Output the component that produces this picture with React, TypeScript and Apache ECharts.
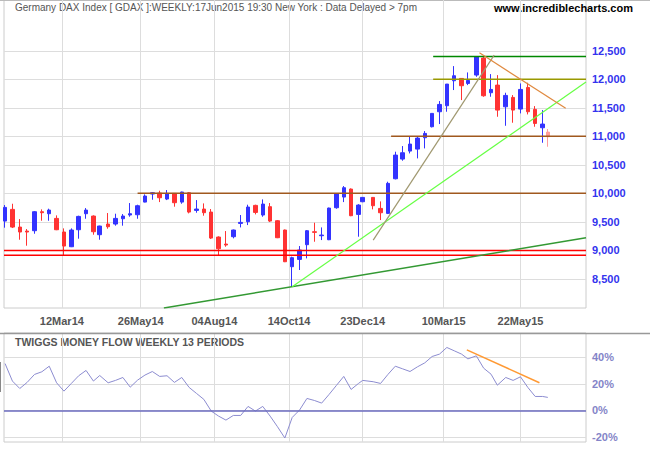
import React, { useEffect, useRef } from "react";
import * as echarts from "echarts";

// ---- weekly bars (last trading day of each week) ----
const barDates = [
  "2014-01-17","2014-01-24","2014-01-31","2014-02-07","2014-02-14","2014-02-21","2014-02-28",
  "2014-03-07","2014-03-14","2014-03-21","2014-03-28","2014-04-04","2014-04-11","2014-04-17",
  "2014-04-25","2014-05-02","2014-05-09","2014-05-16","2014-05-23","2014-05-30","2014-06-06",
  "2014-06-13","2014-06-20","2014-06-27","2014-07-04","2014-07-11","2014-07-18","2014-07-25",
  "2014-08-01","2014-08-08","2014-08-15","2014-08-22","2014-08-29","2014-09-05","2014-09-12",
  "2014-09-19","2014-09-26","2014-10-03","2014-10-10","2014-10-17","2014-10-24","2014-10-31",
  "2014-11-07","2014-11-14","2014-11-21","2014-11-28","2014-12-05","2014-12-12","2014-12-19",
  "2014-12-23","2015-01-02","2015-01-09","2015-01-16","2015-01-23","2015-01-30","2015-02-06",
  "2015-02-13","2015-02-20","2015-02-27","2015-03-06","2015-03-13","2015-03-20","2015-03-27",
  "2015-04-02","2015-04-10","2015-04-17","2015-04-24","2015-04-30","2015-05-08","2015-05-15",
  "2015-05-22","2015-05-29","2015-06-05","2015-06-12","2015-06-17"
];

const opens = [
  9514, 9719, 9409, 9339, 9345, 9678, 9643, 9561, 9322, 9064,
  9362, 9643, 9602, 9275, 9462, 9462, 9555, 9620, 9625, 9847,
  9988, 10005, 9900, 9999, 9847, 10011, 9701, 9725, 9672, 9234,
  9111, 9240, 9473, 9503, 9789, 9620, 9766, 9520, 9357, 8714,
  8842, 9100, 9327, 9257, 9187, 9748, 9935, 10075, 9631, 9853,
  9929, 9736, 9649, 10256, 10601, 10741, 10776, 10975, 11168, 11431,
  11536, 11974, 12015, 11927, 12074, 12372, 11764, 11898, 11518, 11682,
  11478, 11857, 11472, 11150, 11074
];
const closes = [
  9754, 9409, 9322, 9322, 9678, 9661, 9707, 9362, 9076, 9357,
  9596, 9707, 9327, 9427, 9415, 9561, 9602, 9643, 9783, 9953,
  10011, 9923, 9999, 9836, 10023, 9672, 9725, 9661, 9216, 9029,
  9094, 9357, 9491, 9760, 9666, 9812, 9514, 9222, 8801, 8872,
  9006, 9345, 9316, 9269, 9742, 9994, 10099, 9608, 9795, 9929,
  9783, 9660, 10175, 10671, 10712, 10864, 10969, 11051, 11402, 11559,
  11916, 12062, 11887, 11980, 12395, 11711, 11822, 11460, 11717, 11460,
  11822, 11431, 11226, 11215, 10993
];
const lows = [
  9398, 9392, 9187, 9082, 9292, 9520, 9520, 9355, 8918, 9058,
  9205, 9555, 9275, 9187, 9380, 9433, 9433, 9590, 9555, 9842,
  9888, 9847, 9882, 9766, 9818, 9649, 9660, 9608, 9199, 8918,
  9064, 9211, 9403, 9444, 9631, 9590, 9497, 9215, 8795, 8363,
  8656, 8860, 9152, 9181, 9180, 9730, 9847, 9600, 9240, 9845,
  9719, 9532, 9637, 10245, 10572, 10700, 10613, 10788, 11156, 11215,
  11431, 11811, 11635, 11898, 12044, 11694, 11694, 11343, 11185, 11238,
  11402, 11384, 11168, 10887, 10817
];
const highs = [
  9795, 9818, 9549, 9374, 9690, 9719, 9731, 9614, 9386, 9386,
  9608, 9742, 9614, 9433, 9655, 9643, 9637, 9830, 9801, 9982,
  10023, 10046, 10058, 10005, 10029, 10023, 9882, 9824, 9725, 9246,
  9339, 9365, 9620, 9801, 9801, 9894, 9830, 9532, 9365, 8890,
  9076, 9357, 9485, 9403, 9750, 10000, 10128, 10087, 9810, 9935,
  9935, 9859, 10204, 10730, 10829, 11004, 10993, 11092, 11402, 11618,
  11916, 12231, 12015, 12120, 12407, 12412, 12091, 12073, 11764, 11723,
  11927, 11939, 11530, 11460, 11127
];

// Twiggs Money Flow (13 periods), percent
const moneyFlow = [
  35.3, 22.1, 16.5, 21.1, 27.1, 29.1, 33.3, 20.8, 14.5, 20.3,
  26.1, 30.1, 22.1, 26.3, 20.8, 22.6, 24.8, 17.5, 22.8, 26.6,
  29.3, 25.6, 26.1, 21.1, 24.8, 17.3, 12.8, 8.3, -0.5, -4.3,
  -7.3, -3.8, -3.8, 3.0, -0.5, 3.0, -4.3, -12.3, -20.8, -5.3,
  0.3, 9.0, 7.5, 5.5, 12.0, 18.8, 25.6, 15.8, 20.3, 22.6,
  21.6, 20.3, 27.1, 33.3, 31.3, 29.3, 32.8, 35.8, 40.6, 42.4,
  47.4, 44.9, 42.4, 38.8, 41.1, 31.8, 27.3, 19.0, 24.8, 22.6,
  25.3, 17.3, 10.5, 10.5, 9.8
];

// ---- axis ticks ----
const priceTicks = [8500, 9000, 9500, 10000, 10500, 11000, 11500, 12000, 12500];
const flowTicks = [-20, 0, 20, 40];
const dateTicks = ["2014-03-12", "2014-05-26", "2014-08-04", "2014-10-14", "2014-12-23", "2015-03-10", "2015-05-22"];
const xStart = "2014-01-16";
const xEnd = "2015-07-23T07:00:00Z";

// ---- drawn lines (support / resistance / trend) ----
const redLevels = [9000, 8915];
const levelStarts = ["2014-05-23", "2015-01-19", "2015-02-28", "2015-02-28"];
const levelValues = [10000, 11000, 12000, 12400];
const levelColors = ["#a0581e", "#a0581e", "#999900", "#008800"];
const darkGreenTrend: [string, number][] = [["2014-06-17", 7988], ["2015-07-23T07:00:00Z", 9221]];
const lightGreenTrend: [string, number][] = [["2014-10-17", 8363], ["2015-07-23T07:00:00Z", 11951]];
const tanTrend: [string, number][] = [["2015-01-02", 9181], ["2015-04-27", 12424]];
const orangeTrend: [string, number][] = [["2015-04-13", 12465], ["2015-07-04", 11490]];
const flowTrend: [string, number][] = [["2015-04-01", 45.6], ["2015-06-09", 20.8]];

const MONTHS = ["Jan", "Feb", "Mar", "Apr", "May", "Jun", "Jul", "Aug", "Sep", "Oct", "Nov", "Dec"];
const ts = (s: string) => new Date(s).getTime();
const fmtDate = (v: number) => {
  const d = new Date(v);
  return String(d.getUTCDate()).padStart(2, "0") + MONTHS[d.getUTCMonth()] + String(d.getUTCFullYear()).slice(2);
};

const FONT = 'Arial, "Liberation Sans", sans-serif';

function lineSeries(data: [number, number][], color: string, width: number, xi = 0, yi = 0, z = 4) {
  return {
    type: "line",
    xAxisIndex: xi,
    yAxisIndex: yi,
    data,
    symbol: "none",
    silent: true,
    clip: true,
    z,
    lineStyle: { color, width },
  };
}

export default function App() {
  const ref = useRef<HTMLDivElement>(null);

  useEffect(() => {
    if (!ref.current) return;
    const chart = echarts.init(ref.current, undefined, { renderer: "svg" });
    const X_MIN = ts(xStart);
    const X_MAX = ts(xEnd);
    const dateTickVals = dateTicks.map(ts);

    const last = barDates.length - 1;
    const candles = barDates.map((d, i) => {
      const v = [ts(d), opens[i], closes[i], lows[i], highs[i]];
      if (i === last) {
        return {
          value: v,
          itemStyle: { color: "#ff9c9c", color0: "#ff9c9c", borderColor: "#ff9c9c", borderColor0: "#ff9c9c" },
        };
      }
      return v;
    });

    const toPts = (arr: [string, number][]) => arr.map(([d, v]) => [ts(d), v] as [number, number]);

    const series: any[] = [
      {
        type: "candlestick",
        xAxisIndex: 0,
        yAxisIndex: 0,
        data: candles,
        barWidth: 4,
        z: 3,
        silent: true,
        itemStyle: {
          color: "#3333ff",
          color0: "#ff3333",
          borderColor: "#3333ff",
          borderColor0: "#ff3333",
          borderWidth: 1,
        },
      },
      ...redLevels.map((v) => lineSeries([[X_MIN, v], [X_MAX, v]], "#ff0000", 1.5)),
      ...levelValues.map((v, i) => lineSeries([[ts(levelStarts[i]), v], [X_MAX, v]], levelColors[i], 1.5)),
      lineSeries(toPts(darkGreenTrend), "#339933", 1.5),
      lineSeries(toPts(lightGreenTrend), "#66ff44", 1.2),
      lineSeries(toPts(tanTrend), "#a09870", 1.2),
      lineSeries(toPts(orangeTrend), "#e08a40", 1.2),
      {
        type: "line",
        xAxisIndex: 1,
        yAxisIndex: 1,
        data: barDates.map((d, i) => [ts(d), moneyFlow[i]]),
        symbol: "none",
        silent: true,
        lineStyle: { color: "#8c8cd0", width: 1 },
        markLine: {
          silent: true,
          symbol: "none",
          label: { show: false },
          lineStyle: { color: "#6b6bbf", width: 1.5, type: "solid" },
          data: [{ yAxis: 0 }],
        },
      },
      lineSeries(toPts(flowTrend), "#ff9933", 1.5, 1, 1),
    ];

    const xAxisCommon = {
      type: "value",
      min: X_MIN,
      max: X_MAX,
      scale: true,
      axisLine: { show: false },
      axisTick: { show: false, customValues: dateTickVals },
      splitLine: { show: true, lineStyle: { color: "#dddddd", width: 1 } },
    };

    chart.setOption({
      animation: false,
      backgroundColor: "#ffffff",
      grid: [
        { left: 4, right: 64, top: 0, height: 308, show: true, borderColor: "#cccccc", borderWidth: 1 },
        { left: 4, right: 64, top: 333, height: 109, show: true, borderColor: "#cccccc", borderWidth: 1 },
      ],
      xAxis: [
        {
          ...xAxisCommon,
          gridIndex: 0,
          axisLabel: {
            customValues: dateTickVals,
            formatter: (v: number) => fmtDate(v),
            color: "#555555",
            fontWeight: "bold",
            fontSize: 11,
            fontFamily: FONT,
            margin: 7,
          },
        },
        {
          ...xAxisCommon,
          gridIndex: 1,
          axisLabel: { show: false, customValues: dateTickVals },
        },
      ],
      yAxis: [
        {
          type: "value",
          gridIndex: 0,
          position: "right",
          min: 7990,
          max: 13390,
          axisLine: { show: false },
          axisTick: { show: false, customValues: priceTicks },
          splitLine: { show: true, lineStyle: { color: "#dddddd", width: 1 } },
          axisLabel: {
            customValues: priceTicks,
            formatter: (v: number) => v.toLocaleString("en-US"),
            color: "#3333ee",
            fontWeight: "bold",
            fontSize: 11,
            fontFamily: FONT,
            margin: 6,
          },
        },
        {
          type: "value",
          gridIndex: 1,
          position: "right",
          min: -23.8,
          max: 58.3,
          axisLine: { show: false },
          axisTick: { show: false, customValues: flowTicks },
          splitLine: { show: true, lineStyle: { color: "#dddddd", width: 1 } },
          axisLabel: {
            customValues: flowTicks,
            formatter: (v: number) => v + "%",
            color: "#8484c8",
            fontWeight: "bold",
            fontSize: 11,
            fontFamily: FONT,
            margin: 6,
          },
        },
      ],
      graphic: [
        { type: "line", silent: true, shape: { x1: 0, y1: 0.5, x2: 650, y2: 0.5 }, style: { stroke: "#bbbbbb", lineWidth: 1 } },
        { type: "line", silent: true, z: 10, shape: { x1: 0, y1: 333.5, x2: 650, y2: 333.5 }, style: { stroke: "#999999", lineWidth: 1.5 } },
        { type: "line", silent: true, z: 10, shape: { x1: 0.5, y1: 362, x2: 0.5, y2: 392 }, style: { stroke: "#888888", lineWidth: 1 } },
        {
          type: "text",
          left: 15,
          top: 2,
          silent: true,
          style: {
            text: "Germany DAX Index [ GDAX ]:WEEKLY:17Jun2015 19:30 New York : Data Delayed > 7pm",
            fill: "#555555",
            font: '10px Arial, "Liberation Sans", sans-serif',
          },
        },
        {
          type: "text",
          left: 494,
          top: 2,
          silent: true,
          style: {
            text: "www.incrediblecharts.com",
            fill: "#000000",
            font: 'bold 11px Arial, "Liberation Sans", sans-serif',
          },
        },
        {
          type: "text",
          left: 15,
          top: 336,
          silent: true,
          style: {
            text: "TWIGGS MONEY FLOW WEEKLY 13 PERIODS",
            fill: "#555555",
            font: 'bold 10.5px Arial, "Liberation Sans", sans-serif',
          },
        },
      ],
      series,
    });

    return () => {
      chart.dispose();
    };
  }, []);

  return (
    <div
      ref={ref}
      style={{ position: "fixed", left: 0, top: 0, width: 650, height: 450, background: "#ffffff" }}
    />
  );
}
